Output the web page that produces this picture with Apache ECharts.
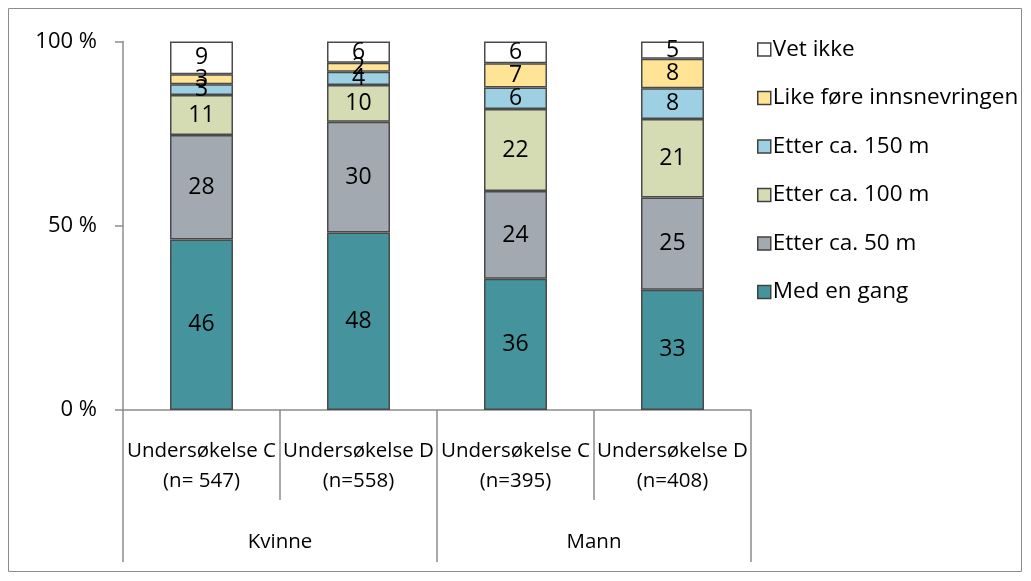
<!DOCTYPE html>
<html><head><meta charset="utf-8">
<script src="https://cdn.jsdelivr.net/npm/echarts@6/dist/echarts.min.js"></script>
<style>html,body{margin:0;padding:0;background:#fff}#c{width:1031px;height:581px}</style>
</head><body><div id="c"></div>
<script>
const categories = ['Undersøkelse C\n(n= 547)', 'Undersøkelse D\n(n=558)', 'Undersøkelse C\n(n=395)', 'Undersøkelse D\n(n=408)'];
const groups = ['Kvinne', 'Mann'];
const yTicks = [0, 50, 100];
const medEnGang = [46.3, 48.2, 35.6, 32.6];
const etter50 = [28.3, 30.0, 23.8, 25.1];
const etter100 = [10.9, 10.0, 22.3, 21.3];
const etter150 = [2.9, 3.6, 5.8, 8.3];
const likeFore = [2.7, 2.4, 6.6, 8.0];
const vetIkke = [8.9, 5.8, 5.9, 4.7];

const seriesNames = ['Med en gang', 'Etter ca. 50 m', 'Etter ca. 100 m', 'Etter ca. 150 m', 'Like føre innsnevringen', 'Vet ikke'];
const seriesData = [medEnGang, etter50, etter100, etter150, likeFore, vetIkke];
const colors = ['#45949D', '#A3A9B0', '#D5DCB3', '#9DD0E2', '#FFE496', '#FFFFFF'];
const FONT = 'Open Sans';

const chart = echarts.init(document.getElementById('c'));
chart.setOption({
  animation: false,
  textStyle: {fontFamily: FONT},
  graphic: [{type: 'rect', shape: {x: 8.5, y: 8.5, width: 1013, height: 563}, style: {fill: 'none', stroke: '#8c8c8c', lineWidth: 1}, silent: true}],
  grid: {left: 123, right: 280, top: 41.5, bottom: 171, containLabel: false},
  legend: {
    orient: 'vertical', left: 752, top: 33, itemGap: 25.5, itemWidth: 13, itemHeight: 13,
    icon: 'rect',
    data: seriesNames.slice().reverse(),
    textStyle: {fontFamily: FONT, fontSize: 22.5, color: '#000', padding: [0, 0, 0, -3]},
    itemStyle: {borderColor: '#404040', borderWidth: 1.5}
  },
  xAxis: [{
    type: 'category', data: categories, position: 'bottom',
    axisLine: {lineStyle: {color: '#8c8c8c', width: 1.5}},
    axisTick: {show: true, length: 90, interval: 0, lineStyle: {color: '#8c8c8c', width: 1.5}},
    axisLabel: {interval: 0, margin: 26, fontSize: 20.5, color: '#000', lineHeight: 30, fontFamily: FONT}
  }, {
    type: 'category', data: groups, position: 'bottom',
    axisLine: {show: false},
    axisTick: {show: true, length: 152, interval: 0, lineStyle: {color: '#8c8c8c', width: 1.5}},
    axisLabel: {interval: 0, margin: 122, fontSize: 20.5, color: '#000', fontFamily: FONT}
  }],
  yAxis: {
    type: 'value', min: yTicks[0], max: yTicks[2], interval: 50,
    axisLine: {show: true, lineStyle: {color: '#8c8c8c', width: 1.5}},
    axisTick: {show: true, length: 8, lineStyle: {color: '#8c8c8c', width: 1.5}},
    splitLine: {show: false},
    axisLabel: {formatter: '{value} %', fontSize: 22, color: '#000', margin: 26, fontFamily: FONT}
  },
  series: seriesNames.map((n, i) => ({
    name: n, type: 'bar', stack: 'tot', xAxisIndex: 0,
    data: seriesData[i],
    barWidth: 63,
    itemStyle: {color: colors[i], borderColor: '#4a4a4a', borderWidth: 1.5},
    label: {show: true, position: 'inside', fontSize: 23, color: '#000', fontFamily: FONT,
      formatter: p => Math.round(p.value)}
  }))
});
</script></body></html>
